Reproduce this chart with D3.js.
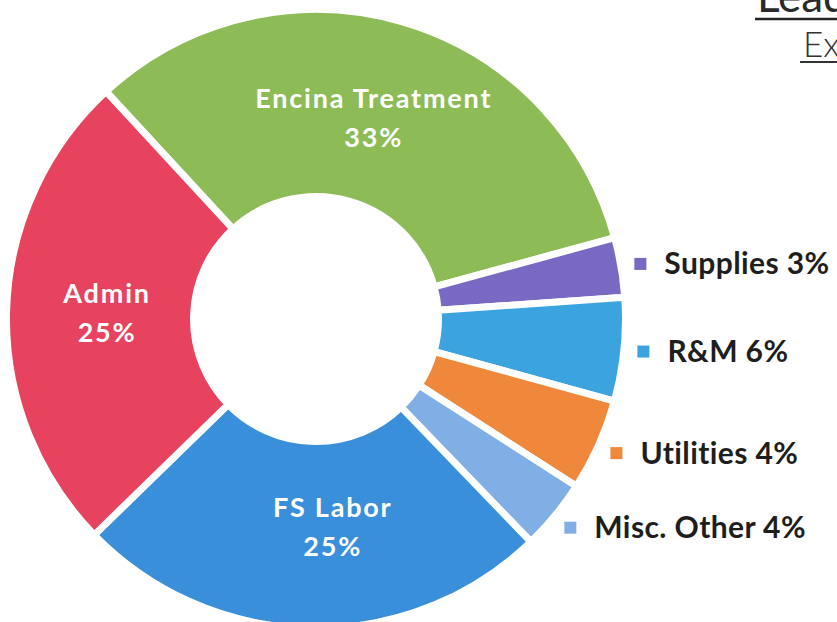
<!DOCTYPE html>
<html>
<head>
<meta charset="utf-8">
<script src="https://cdn.jsdelivr.net/npm/d3@7"></script>
<style>
  html, body { margin: 0; padding: 0; background: #fff; overflow: hidden; }
  svg { display: block; }
</style>
</head>
<body>
<svg id="chart" width="837" height="622"></svg>
<script>
// ---- data ----
const categories = ["Encina Treatment", "Supplies", "R&M", "Utilities", "Misc. Other", "FS Labor", "Admin"];
const shares = [32.6, 3.1, 5.4, 4.8, 3.7, 24.9, 25.4];
const pctLabels = ["33%", "3%", "6%", "4%", "4%", "25%", "25%"];
const labelInside = [true, false, false, false, false, true, true];
const colors = ["#8dbb56", "#7a69c2", "#3ba4df", "#f0883c", "#80afe6", "#3a8fda", "#e7435e"];
const titleLines = ["Leadership", "Expenses"];

// ---- layout ----
const W = 837, H = 622;
const cx = 316, cy = 319;
const rOuter = 309.5, rInner = 122.5;
const startDeg = -42.7;
const labelAngleNudgeDeg = { "FS Labor": -5.5 };

const svg = d3.select("#chart");
const data = categories.map((c, i) => ({ name: c, value: shares[i], pct: pctLabels[i], inside: labelInside[i], color: colors[i] }));

const pie = d3.pie().value(d => d.value).sort(null)
  .startAngle(startDeg * Math.PI / 180)
  .endAngle(startDeg * Math.PI / 180 + 2 * Math.PI);
const arcs = pie(data);

const arc = d3.arc().innerRadius(rInner).outerRadius(rOuter);
const labelR = 209;
const legendArc = d3.arc().innerRadius(329).outerRadius(329);

const g = svg.append("g").attr("transform", `translate(${cx},${cy})`);

g.selectAll("path.slice").data(arcs).enter().append("path")
  .attr("class", "slice")
  .attr("d", arc)
  .attr("fill", d => d.data.color)
  .attr("stroke", "#ffffff")
  .attr("stroke-width", 7)
  .attr("stroke-linejoin", "miter");

function labelPos(d) {
  const nudge = (labelAngleNudgeDeg[d.data.name] || 0) * Math.PI / 180;
  const a = (d.startAngle + d.endAngle) / 2 + nudge;
  return [labelR * Math.sin(a), -labelR * Math.cos(a)];
}

// inside labels
const inside = g.selectAll("g.inlabel").data(arcs.filter(d => d.data.inside)).enter().append("g")
  .attr("class", "inlabel")
  .attr("transform", d => { const [x, y] = labelPos(d); return `translate(${x},${y})`; });
inside.append("text")
  .attr("text-anchor", "middle").attr("y", -19.5).attr("dy", "0.35em")
  .attr("fill", "#ffffff").attr("font-family", "Lato, 'Open Sans', sans-serif")
  .attr("font-weight", 700).attr("font-size", 27).attr("letter-spacing", 1.8)
  .text(d => d.data.name);
inside.append("text")
  .attr("text-anchor", "middle").attr("y", 19.5).attr("dy", "0.35em")
  .attr("fill", "#ffffff").attr("font-family", "Lato, 'Open Sans', sans-serif")
  .attr("font-weight", 700).attr("font-size", 27).attr("letter-spacing", 1.8)
  .text(d => d.data.pct);

// outside legend-style labels
const outside = g.selectAll("g.outlabel").data(arcs.filter(d => !d.data.inside)).enter().append("g")
  .attr("class", "outlabel")
  .attr("transform", d => { const [x, y] = legendArc.centroid(d); return `translate(${x},${y})`; });
outside.append("rect")
  .attr("x", -6).attr("y", -6).attr("width", 12).attr("height", 12)
  .attr("fill", d => d.data.color);
outside.append("text")
  .attr("x", 24).attr("dy", "0.35em")
  .attr("fill", "#1e1e1e").attr("font-family", "Lato, 'Open Sans', sans-serif")
  .attr("font-weight", 700).attr("font-size", 30).attr("letter-spacing", 0.4)
  .text(d => `${d.data.name} ${d.data.pct}`);

// title (partially outside the frame, as in the reference)
svg.append("text").attr("x", 757).attr("y", 12)
  .attr("fill", "#2a2a2a").attr("font-family", "Lato, 'Open Sans', sans-serif")
  .attr("font-weight", 400).attr("font-size", 44)
  .text(titleLines[0]);
svg.append("line").attr("x1", 755).attr("x2", W).attr("y1", 19).attr("y2", 19)
  .attr("stroke", "#222").attr("stroke-width", 2.5);
svg.append("text").attr("x", 803).attr("y", 57)
  .attr("fill", "#333").attr("font-family", "Lato, 'Open Sans', sans-serif")
  .attr("font-weight", 300).attr("font-size", 35)
  .text(titleLines[1]);
svg.append("line").attr("x1", 800).attr("x2", W).attr("y1", 62).attr("y2", 62)
  .attr("stroke", "#333").attr("stroke-width", 1.8);
</script>
</body>
</html>
